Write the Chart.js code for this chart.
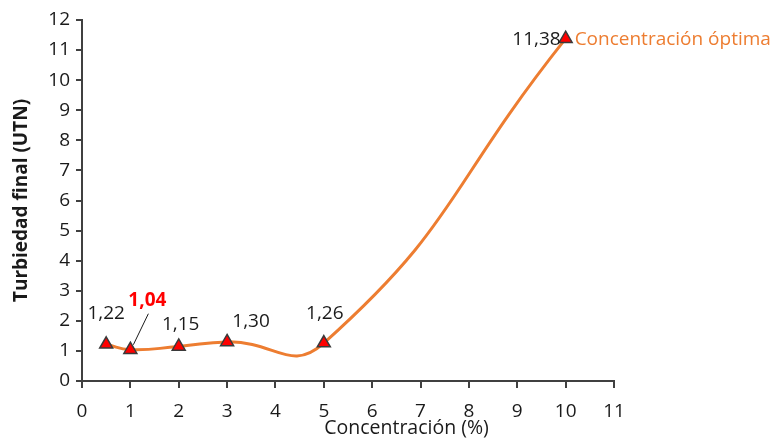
<!DOCTYPE html>
<html>
<head>
<meta charset="utf-8">
<script src="https://cdn.jsdelivr.net/npm/chart.js@4"></script>
<style>
  html, body { margin: 0; padding: 0; background: #fff; }
  #wrap { width: 780px; height: 438px; }
</style>
</head>
<body>
<div id="wrap"><canvas id="turbChart" width="780" height="438"></canvas></div>
<script>
// datos
var concentracion = [0.5, 1, 2, 3, 5, 10];
var turbiedad = [1.22, 1.04, 1.15, 1.30, 1.26, 11.38];
var etiquetas = ['1,22', '1,04', '1,15', '1,30', '1,26', '11,38'];
var xTicks = [0, 11];   // min, max
var yTicks = [0, 12];
var nota = 'Concentración óptima';

var FONT = '"Open Sans", "Noto Sans", sans-serif';
var NARANJA = '#ED7D31';
var EJE = '#404040';

var puntos = concentracion.map(function(x, i) {
    return { x: x, y: turbiedad[i] };
});

// etiquetas de datos, línea guía y título del eje x
var etiquetasPlugin = {
    id: 'etiquetas',
    afterDatasetsDraw: function(chart) {
        var ctx = chart.ctx;
        var p = chart.getDatasetMeta(0).data;
        ctx.save();
        ctx.textBaseline = 'middle';
        ctx.fillStyle = '#1a1a1a';
        ctx.font = '19px ' + FONT;
        ctx.textAlign = 'center';

        ctx.fillText(etiquetas[0], p[0].x, p[0].y - 31);
        ctx.fillText(etiquetas[2], p[2].x + 2, p[2].y - 22);
        ctx.fillText(etiquetas[3], p[3].x + 24, p[3].y - 20);
        ctx.fillText(etiquetas[4], p[4].x + 1, p[4].y - 30);

        ctx.textAlign = 'right';
        ctx.fillText(etiquetas[5], p[5].x - 5, p[5].y + 1);

        // 1,04 en rojo con línea guía
        ctx.strokeStyle = '#1a1a1a';
        ctx.lineWidth = 1;
        ctx.beginPath();
        ctx.moveTo(p[1].x + 18, p[1].y - 36);
        ctx.lineTo(p[1].x + 3, p[1].y - 5);
        ctx.stroke();
        ctx.textAlign = 'center';
        ctx.fillStyle = '#FF0000';
        ctx.font = 'bold 19px ' + FONT;
        ctx.fillText(etiquetas[1], p[1].x + 17, p[1].y - 49);

        ctx.textAlign = 'left';
        ctx.fillStyle = NARANJA;
        ctx.font = '19px ' + FONT;
        ctx.fillText(nota, p[5].x + 9, p[5].y + 1);

        // título eje x
        var area = chart.chartArea;
        ctx.textAlign = 'center';
        ctx.fillStyle = '#1a1a1a';
        ctx.font = '19.5px ' + FONT;
        ctx.fillText('Concentración (%)', area.left + (area.right - area.left) * 0.61, 428);
        ctx.restore();
    }
};

var chart = new Chart(document.getElementById('turbChart').getContext('2d'), {
    type: 'scatter',
    data: {
        datasets: [{
            label: 'Turbiedad final',
            data: puntos,
            showLine: true,
            tension: 0.5,
            borderColor: NARANJA,
            borderWidth: 3,
            pointStyle: 'triangle',
            pointRadius: 7.5,
            pointHoverRadius: 7.5,
            pointBackgroundColor: '#FF0000',
            pointBorderColor: '#3a3a3a',
            pointBorderWidth: 1.5
        }]
    },
    options: {
        responsive: false,
        animation: false,
        layout: { padding: { left: 0, right: 166, top: 20, bottom: 0 } },
        plugins: {
            legend: { display: false },
            tooltip: { enabled: false }
        },
        scales: {
            x: {
                type: 'linear',
                min: xTicks[0],
                max: xTicks[1],
                afterFit: function(scale) { scale.height = 57; },
                ticks: { stepSize: 1, color: '#1a1a1a', font: { family: FONT, size: 19 }, padding: 12, maxRotation: 0 },
                grid: { drawOnChartArea: false, drawTicks: true, tickLength: 7, color: EJE, lineWidth: 2 },
                border: { display: true, color: EJE, width: 2 }
            },
            y: {
                min: yTicks[0],
                max: yTicks[1],
                afterFit: function(scale) { scale.width = 82; },
                ticks: { stepSize: 1, color: '#1a1a1a', font: { family: FONT, size: 19 }, padding: 6 },
                grid: { drawOnChartArea: false, drawTicks: true, tickLength: 6, color: EJE, lineWidth: 2 },
                border: { display: true, color: EJE, width: 2 },
                title: {
                    display: true,
                    text: 'Turbiedad final (UTN)',
                    color: '#1a1a1a',
                    font: { family: FONT, size: 19, weight: 'bold' },
                    padding: { top: 10, bottom: 0 }
                }
            }
        }
    },
    plugins: [etiquetasPlugin]
});
</script>
</body>
</html>
